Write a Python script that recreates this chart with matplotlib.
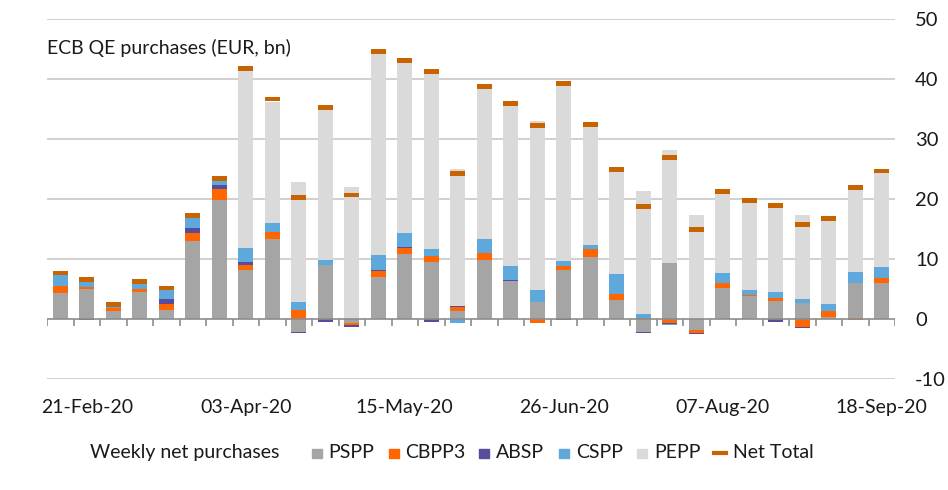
import matplotlib
matplotlib.use("Agg")
import matplotlib.pyplot as plt
from matplotlib.patches import Rectangle
from matplotlib.lines import Line2D
import numpy as np
import pandas as pd

plt.rcParams['font.family'] = ['Lato', 'DejaVu Sans']
plt.rcParams['axes.unicode_minus'] = False

weeks = pd.date_range("2020-02-14", periods=32, freq="7D")

pspp = [4.4, 5.1, 1.3, 4.55, 1.55, 13.1, 19.9, 8.2, 13.4, -2.1, 9.0, -0.6, 7.1, 10.9, 9.55, 1.4,
        9.95, 6.3, 2.9, 8.2, 10.4, 3.2, -2.2, 9.35, -1.8, 5.2, 3.8, 3.05, 2.67, 0.4, 6.0, 6.0]
cbpp3 = [1.2, 0.2, 0.55, 0.45, 1.0, 1.35, 1.8, 0.85, 1.2, 1.55, 0.0, -0.3, 1.0, 1.05, 0.95, 0.7,
         1.05, 0.15, -0.55, 0.65, 1.3, 1.0, 0.2, -0.55, -0.45, 0.8, 0.25, 0.55, -1.35, 0.95, -0.1, 0.85]
absp = [0.0, -0.2, 0.0, 0.1, 0.8, 0.7, 0.6, 0.45, 0.0, -0.2, -0.45, -0.4, 0.1, 0.1, -0.4, 0.15,
        0.0, 0.1, -0.15, -0.2, 0.0, 0.0, -0.15, -0.3, -0.15, 0.0, 0.0, -0.45, -0.15, 0.0, 0.0, 0.0]
cspp = [2.0, 1.0, 0.65, 0.95, 1.8, 1.7, 1.0, 2.35, 1.5, 1.3, 0.9, 0.0, 2.55, 2.4, 1.15, -0.65,
        2.3, 2.35, 2.0, 0.8, 0.65, 3.3, 0.6, -0.1, 0.0, 1.65, 0.85, 0.9, 0.7, 1.2, 1.8, 1.85]
pepp = [0, 0, 0, 0, 0, 0, 0, 29.7, 20.1, 20.0, 25.7, 22.0, 33.9, 28.7, 29.4, 22.8,
        25.3, 26.9, 28.2, 29.7, 19.8, 17.1, 20.5, 18.9, 17.4, 13.3, 14.7, 14.3, 14.0, 14.0, 14.4, 15.7]
net_total = [7.7, 6.6, 2.5, 6.3, 5.2, 17.3, 23.5, 41.8, 36.7, 20.3, 35.3, 20.7, 44.7, 43.2, 41.3, 24.3,
             38.8, 36.0, 32.3, 39.3, 32.5, 25.0, 18.8, 27.0, 15.0, 21.3, 19.8, 19.0, 15.8, 16.8, 22.0, 24.7]

series = [("PSPP", pspp, "#A5A5A5"),
          ("CBPP3", cbpp3, "#FF6600"),
          ("ABSP", absp, "#564E9C"),
          ("CSPP", cspp, "#5FA8DC"),
          ("PEPP", pepp, "#DADADA")]
net_color = "#C86400"
txt_color = "#1a1a1a"

W, H = 948, 490
fig = plt.figure(figsize=(W / 100, H / 100), dpi=100)
ax = fig.add_axes([0.0496, 0.226, 0.8945, 0.7346])

x = np.arange(len(weeks))
w = 0.58
pos_bottom = np.zeros(len(x))
neg_bottom = np.zeros(len(x))
for name, vals, col in series:
    v = np.array(vals, dtype=float)
    bottom = np.where(v >= 0, pos_bottom, neg_bottom)
    ax.bar(x, v, w, bottom=bottom, color=col, zorder=2)
    pos_bottom = pos_bottom + np.where(v > 0, v, 0)
    neg_bottom = neg_bottom + np.where(v < 0, v, 0)

# net total marker: short thick dash on each bar
net = np.array(net_total)
ax.bar(x, 0.8, w, bottom=net - 0.4, color=net_color, zorder=3)

ax.set_xlim(-0.5, len(x) - 0.5)
ax.set_ylim(-10, 50)

for y in [-10, 10, 20, 30, 40, 50]:
    ax.axhline(y, color="#C4C4C4", lw=1.1, zorder=1)
ax.axhline(0, color="#8C8C8C", lw=1.2, zorder=4)
ax.vlines(np.arange(len(x) + 1) - 0.5, -1.2, 0, color="#8C8C8C", lw=1.2, zorder=4)

for s in ax.spines.values():
    s.set_visible(False)

ax.yaxis.tick_right()
ax.set_yticks([-10, 0, 10, 20, 30, 40, 50])
ax.tick_params(axis="y", length=0, pad=14.5, labelsize=14.5, labelcolor=txt_color)

lab_idx = list(range(1, len(x), 6))
ax.set_xticks(lab_idx)
ax.set_xticklabels([weeks[i].strftime("%d-%b-%y") for i in lab_idx])
ax.tick_params(axis="x", length=0, pad=14, labelsize=14, labelcolor=txt_color)

ax.text(0.0, 0.92, "ECB QE purchases (EUR, bn)", transform=ax.transAxes,
        fontsize=14, color=txt_color, va="center", ha="left")

# legend, laid out by hand like the original
base = 1 - 458 / H
fig.text(90 / W, base, "Weekly net purchases", fontsize=14, color=txt_color, va="baseline")
sq_x = [312, 389, 479, 559, 637]
txt_x = [328, 405, 496, 576, 654, 733]
for (name, _, col), sx, tx in zip(series, sq_x, txt_x):
    fig.add_artist(Rectangle((sx / W, base), 9.5 / W, 9.5 / H, color=col,
                             transform=fig.transFigure))
    fig.text(tx / W, base, name, fontsize=14, color=txt_color, va="baseline")
fig.add_artist(Line2D([714 / W, 726 / W], [1 - 453 / H] * 2, color=net_color, lw=3,
                      transform=fig.transFigure))
fig.text(txt_x[-1] / W, base, "Net Total", fontsize=14, color=txt_color, va="baseline")

fig.savefig("out.png", dpi=100)
